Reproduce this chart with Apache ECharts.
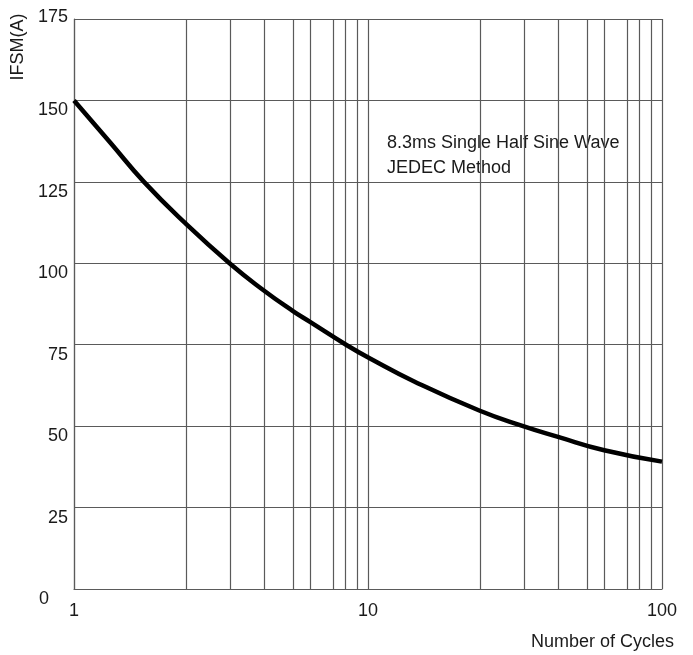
<!DOCTYPE html>
<html>
<head>
<meta charset="utf-8">
<script src="https://cdn.jsdelivr.net/npm/echarts@6/dist/echarts.min.js"></script>
<style>
  html, body { margin: 0; padding: 0; background: #fff; }
  #chart { width: 693px; height: 655px; }
</style>
</head>
<body>
<div id="chart"></div>
<script>
// number of cycles / peak forward surge current
const cycles = [1, 1.33, 1.73, 2.39, 3.38, 4.4, 5.54, 6.35, 8.42, 10.2, 14.3, 23.9, 33.7, 44.3, 63.6, 100]
const ifsm = [150, 137, 125, 112.3, 100, 91.8, 85.4, 82, 75, 70.7, 63.8, 54.8, 50, 46.7, 42.6, 39.1]
// the vertical grid lines of the sheet (they are not at 2..9 exactly)
const gridX = [2.4, 3.39, 4.45, 5.57, 6.35, 7.64, 8.36, 9.18,
  24, 33.9, 44.5, 55.7, 63.5, 76.4, 83.6, 91.8]
const yTicks = [0, 25, 50, 75, 100, 125, 150, 175]

const font = "'Liberation Sans', Arial, sans-serif"
const gridColor = "#5a5a5a"

var myChart = echarts.init(document.getElementById("chart"))

let option = {
  animation: false,
  textStyle: { fontFamily: font },
  grid: { left: 74, right: 31, top: 19, bottom: 66 },
  xAxis: {
    type: "log",
    logBase: 10,
    min: 1,
    max: 100,
    axisLine: { show: true, lineStyle: { color: gridColor, width: 1.2 } },
    axisTick: { show: false },
    axisLabel: { color: "#1a1a1a", fontSize: 18, fontFamily: font, margin: 13 },
    splitLine: { show: true, lineStyle: { color: gridColor, width: 1.2 } }
  },
  yAxis: {
    type: "value",
    min: yTicks[0],
    max: yTicks[yTicks.length - 1],
    interval: 25,
    axisLine: { show: true, lineStyle: { color: gridColor, width: 1.2 } },
    axisTick: { show: false },
    axisLabel: {
      color: "#1a1a1a",
      fontSize: 18,
      fontFamily: font,
      margin: 6,
      formatter: (v) => {
        if (v === 175) return "{t|" + v + "}"
        if (v === 0) return "{z|0}"
        return "{a|" + v + "}"
      },
      rich: {
        a: { fontSize: 18, fontFamily: font, color: "#1a1a1a", padding: [20, 0, 0, 0] },
        t: { fontSize: 18, fontFamily: font, color: "#1a1a1a", padding: [0, 0, 4, 0] },
        z: { fontSize: 18, fontFamily: font, color: "#1a1a1a", padding: [20, 19, 0, 0] }
      }
    },
    splitLine: { show: true, lineStyle: { color: gridColor, width: 1.2 } }
  },
  series: [
    {
      type: "line",
      z: 1,
      data: [],
      silent: true,
      markLine: {
        silent: true,
        symbol: "none",
        label: { show: false },
        lineStyle: { color: gridColor, width: 1.2, type: "solid" },
        data: gridX.map((v) => ({ xAxis: v }))
      }
    },
    {
      name: "IFSM",
      type: "line",
      z: 10,
      smooth: true,
      showSymbol: false,
      data: cycles.map((c, i) => [c, ifsm[i]]),
      lineStyle: { color: "#000", width: 4.5 }
    }
  ],
  graphic: [
    {
      type: "text",
      x: 18,
      y: 47,
      rotation: Math.PI / 2,
      style: { text: "IFSM(A)", fill: "#1a1a1a", font: "18px " + font, textAlign: "center", textVerticalAlign: "middle" }
    },
    {
      type: "text",
      x: 674,
      y: 642,
      style: { text: "Number of Cycles", fill: "#1a1a1a", font: "18px " + font, textAlign: "right", textVerticalAlign: "middle" }
    },
    {
      type: "text",
      x: 387,
      y: 143,
      style: { text: "8.3ms Single Half Sine Wave", fill: "#1a1a1a", font: "18px " + font, textAlign: "left", textVerticalAlign: "middle" }
    },
    {
      type: "text",
      x: 387,
      y: 168,
      style: { text: "JEDEC Method", fill: "#1a1a1a", font: "18px " + font, textAlign: "left", textVerticalAlign: "middle" }
    }
  ]
}

myChart.setOption(option)

window.onresize = () => {
  myChart.resize()
}
</script>
</body>
</html>
